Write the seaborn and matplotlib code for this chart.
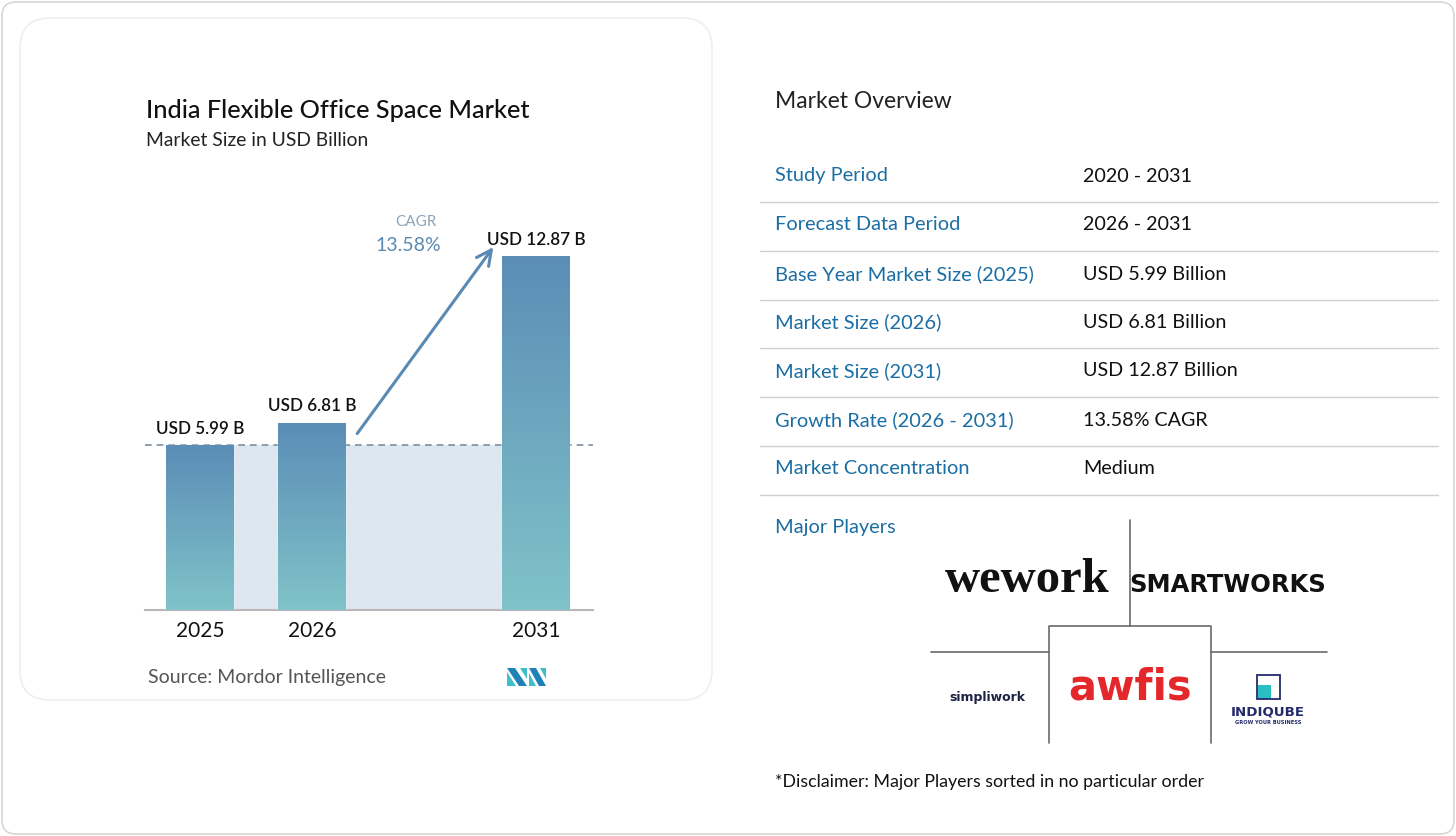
import numpy as np
import pandas as pd
import seaborn as sns
import matplotlib.pyplot as plt
from matplotlib.patches import FancyBboxPatch, Polygon, Rectangle
from matplotlib.colors import LinearSegmentedColormap

# chart data
years = ['2025', '2026', '2031']
year_pos = [0, 1, 3]
market_size = [5.99, 6.81, 12.87]
value_labels = ['USD 5.99 B', 'USD 6.81 B', 'USD 12.87 B']
cagr_text = '13.58%'

# overview table
overview_labels = ['Study Period', 'Forecast Data Period', 'Base Year Market Size (2025)',
                   'Market Size (2026)', 'Market Size (2031)', 'Growth Rate (2026 - 2031)',
                   'Market Concentration']
overview_values = ['2020 - 2031', '2026 - 2031', 'USD 5.99 Billion', 'USD 6.81 Billion',
                   'USD 12.87 Billion', '13.58% CAGR', 'Medium']

TOP_COLOR = '#5b8db6'
BOTTOM_COLOR = '#80c3c9'
LABEL_BLUE = '#1b6ea4'
W, H = 1456, 836

sns.set_theme(style='white')
plt.rcParams['font.family'] = ['Lato', 'DejaVu Sans']

fig = plt.figure(figsize=(W / 100, H / 100), dpi=100)
fig.patch.set_facecolor('white')

# background axes in pixel coordinates
bg = fig.add_axes([0, 0, 1, 1], zorder=0)
bg.set_xlim(0, W)
bg.set_ylim(H, 0)
bg.axis('off')

bg.add_patch(FancyBboxPatch((2, 2), W - 4, H - 4, boxstyle='round,pad=0,rounding_size=14',
                            fc='white', ec='#d6d6d6', lw=1.2))
bg.add_patch(FancyBboxPatch((20, 18), 692, 682, boxstyle='round,pad=0,rounding_size=30',
                            fc='white', ec='#efefef', lw=1.2))

bg.text(146, 110, 'India Flexible Office Space Market', fontsize=18.2, color='#111111',
        va='center', ha='left', fontweight='medium')
bg.text(146, 141, 'Market Size in USD Billion', fontsize=13.9, color='#222222', va='center')
bg.text(148, 678, 'Source: Mordor Intelligence', fontsize=14, color='#555555', va='center')

# MI logo
mi_teal, mi_blue = '#3ec0c8', '#1e82b8'
bg.add_patch(Polygon([(507, 686), (507, 672), (516, 686)], closed=True, fc=mi_teal, ec='none'))
bg.add_patch(Polygon([(507, 668), (515, 668), (527, 686), (519, 686)], closed=True, fc=mi_blue, ec='none'))
bg.add_patch(Polygon([(520, 668), (527, 668), (527, 679)], closed=True, fc=mi_teal, ec='none'))
bg.add_patch(Polygon([(529, 668), (536, 668), (546, 686), (539, 686)], closed=True, fc=mi_blue, ec='none'))
bg.add_patch(Polygon([(529, 673), (529, 686), (536, 686)], closed=True, fc=mi_teal, ec='none'))
bg.add_patch(Polygon([(540, 668), (546, 668), (546, 679)], closed=True, fc=mi_teal, ec='none'))

# market overview
bg.text(775, 101, 'Market Overview', fontsize=16.5, color='#222222', va='center')
row_y = [176, 225, 274, 322, 371, 420, 469]
grad = np.concatenate([np.linspace(1, 0.93, 60), np.linspace(0.93, 1, 40)])
bg.imshow(np.tile(grad, (2, 1)), cmap='gray', vmin=0, vmax=1, extent=(760, 1438, 495, 202),
          aspect='auto', zorder=0.5, alpha=0.6)
for y, lab, val in zip(row_y, overview_labels, overview_values):
    bg.text(775, y, lab, fontsize=14.4, color=LABEL_BLUE, va='center')
    bg.text(1083, y, val, fontsize=14.2, color='#111111', va='center')
    bg.plot([760, 1438], [y + 26, y + 26], color='#cfcfcf', lw=1)
bg.text(775, 527, 'Major Players', fontsize=14.4, color=LABEL_BLUE, va='center')

# player logos grid
gc = '#6a6a6a'
bg.plot([1130, 1130], [520, 626], color=gc, lw=1.2)
bg.plot([931, 1049], [652, 652], color=gc, lw=1.2)
bg.plot([1211, 1327], [652, 652], color=gc, lw=1.2)
bg.plot([1049, 1049, 1211, 1211], [743, 626, 626, 743], color=gc, lw=1.2)

bg.text(1027, 580, 'wework', fontsize=35, family='Liberation Serif', fontweight='bold',
        color='#111111', ha='center', va='center')
bg.text(1228, 585, 'SMARTWORKS', fontsize=17.5, family='DejaVu Sans', fontweight='bold',
        color='#111111', ha='center', va='center')
bg.text(1130, 688, 'awfis', fontsize=30, family='DejaVu Sans', fontweight='bold',
        color='#e3272b', ha='center', va='center')
bg.text(987, 698, 'simpliwork', fontsize=9, family='DejaVu Sans', fontweight='bold',
        color='#1d2142', ha='center', va='center')
bg.add_patch(Rectangle((1258, 685), 13, 14, fc='#2bbfc4', ec='none'))
bg.add_patch(Rectangle((1257, 675), 23, 24, fc='none', ec='#252a6b', lw=1.3))
bg.text(1268, 712, 'INDIQUBE', fontsize=9.6, family='DejaVu Sans', fontweight='bold',
        color='#252a6b', ha='center', va='center')
bg.text(1268, 723, 'GROW YOUR BUSINESS', fontsize=3.7, family='DejaVu Sans', fontweight='bold',
        color='#252a6b', ha='center', va='center')

bg.text(775, 782, '*Disclaimer: Major Players sorted in no particular order', fontsize=12.8,
        color='#111111', va='center')

# bar chart axes
ax = fig.add_axes([145 / W, (H - 610) / H, 448 / W, 410 / H], zorder=1)
ax.patch.set_alpha(0)

df = pd.DataFrame({'year': years, 'pos': year_pos, 'size': market_size})
sns.barplot(data=df, x='pos', y='size', native_scale=True, width=0.6, color=TOP_COLOR,
            ax=ax, zorder=3)

# gradient fill on each bar
cmap = LinearSegmentedColormap.from_list('bar', [BOTTOM_COLOR, TOP_COLOR])
vgrad = np.linspace(0, 1, 256).reshape(-1, 1)
for p in ax.patches:
    x0, y0 = p.get_x(), p.get_y()
    w, h = p.get_width(), p.get_height()
    im = ax.imshow(vgrad, cmap=cmap, origin='lower', extent=(x0, x0 + w, y0, y0 + h),
                   aspect='auto', zorder=4)
    im.set_clip_path(p)
ax.set_xlim(-0.49, 3.51)
ax.set_ylim(0, 14.9)

# shaded base band and dashed reference
ax.fill_between([year_pos[0] - 0.3, year_pos[2] - 0.3], 0, market_size[0], color='#dde7f0',
                zorder=1, lw=0)
ax.axhline(market_size[0], color='#7f8e9b', ls=(0, (4, 3)), lw=1.2, zorder=2)

for xp, v, lab in zip(year_pos, market_size, value_labels):
    ax.annotate(lab, (xp, v), xytext=(0, 6), textcoords='offset points', ha='center',
                va='bottom', fontsize=12.3, color='#111111', fontweight='semibold')

ax.annotate('', xy=(year_pos[2] - 0.365, market_size[2] + 0.4),
            xytext=(year_pos[1] + 0.39, market_size[1] - 0.48),
            arrowprops=dict(arrowstyle='->,head_length=0.9,head_width=0.45', color='#5a8ab3',
                            lw=2.2), zorder=5)
ax.text(0.605, 0.947, 'CAGR', transform=ax.transAxes, fontsize=11, color='#8ea5b8',
        ha='center', va='center')
ax.text(0.588, 0.89, cagr_text, transform=ax.transAxes, fontsize=14, color='#5a8ab3',
        ha='center', va='center')

ax.set_xticks(year_pos)
ax.set_xticklabels(years, fontsize=15, color='#111111')
ax.tick_params(axis='x', length=0, pad=8)
ax.set_yticks([])
ax.set_xlabel('')
ax.set_ylabel('')
for s in ['top', 'left', 'right']:
    ax.spines[s].set_visible(False)
ax.spines['bottom'].set_color('#b8b8b8')
ax.spines['bottom'].set_linewidth(1.5)

fig.savefig('out.png', dpi=100, facecolor='white')
